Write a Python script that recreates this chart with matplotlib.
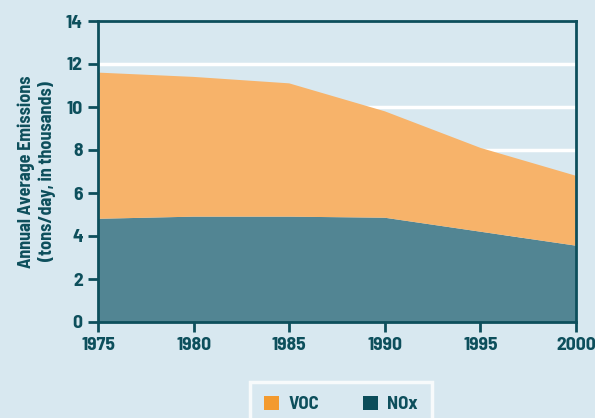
import numpy as np
import matplotlib.pyplot as plt
from matplotlib.patches import Patch

years = [1975, 1980, 1985, 1990, 1995, 2000]
nox = [4.8, 4.9, 4.9, 4.85, 4.2, 3.55]
total = [11.6, 11.4, 11.1, 9.8, 8.1, 6.8]
voc = [t - n for t, n in zip(total, nox)]

BG = '#d8e8f0'
DARK = '#0d4f5c'
VOC_FILL = '#f7b36a'
NOX_FILL = '#528593'
VOC_KEY = '#f39a2e'
NOX_KEY = '#0b4d5a'

plt.rcParams['font.family'] = ['Barlow Semi Condensed', 'Liberation Sans', 'DejaVu Sans']
plt.rcParams['font.weight'] = 'bold'

fig = plt.figure(figsize=(5.95, 4.18), dpi=100, facecolor=BG)
ax = fig.add_axes([98/595, 1-322/418, 478/595, 301/418])
ax.set_facecolor(BG)

ax.stackplot(years, nox, voc, colors=[NOX_FILL, VOC_FILL], linewidth=0, zorder=2)

ax.set_xlim(1975, 2000)
ax.set_ylim(0, 14)
ax.set_xticks(years)
ax.set_yticks(range(0, 15, 2))
for y in range(2, 14, 2):
    ax.axhline(y, color='white', lw=2.5, zorder=1)

for s in ax.spines.values():
    s.set_color(DARK)
    s.set_linewidth(2)
    s.set_zorder(3)
ax.tick_params(colors=DARK, width=2, length=7, labelsize=14, pad=4)
for lab in ax.get_xticklabels() + ax.get_yticklabels():
    lab.set_fontweight('bold')

ax.set_ylabel('Annual Average Emissions\n(tons/day, in thousands)',
              color=DARK, fontsize=13, fontweight='bold', labelpad=7,
              linespacing=1.2)

handles = [Patch(facecolor=VOC_KEY, label='VOC'), Patch(facecolor=NOX_KEY, label='NOx')]
leg = fig.legend(handles=handles, loc='lower center', bbox_to_anchor=(341/595, -0.045),
                 ncol=2, frameon=True, fancybox=False, handlelength=0.8, handleheight=0.8,
                 columnspacing=2.3, handletextpad=0.5, borderpad=0.75,
                 prop={'weight': 'bold', 'size': 13.5})
leg.get_frame().set_facecolor(BG)
leg.get_frame().set_edgecolor('white')
leg.get_frame().set_linewidth(2.5)
for t in leg.get_texts():
    t.set_color(DARK)

fig.savefig('out.png', dpi=100, facecolor=BG)
